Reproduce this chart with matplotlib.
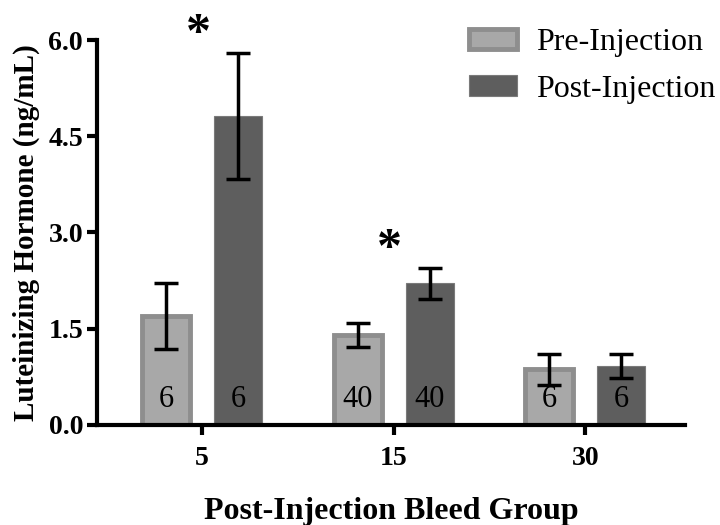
import matplotlib
matplotlib.use("Agg")
import matplotlib.pyplot as plt
import numpy as np

groups = ["5", "15", "30"]
pre_vals = [1.70, 1.40, 0.87]
pre_err = [0.52, 0.19, 0.24]
post_vals = [4.81, 2.21, 0.92]
post_err = [0.98, 0.24, 0.19]
pre_n = ["6", "40", "6"]
post_n = ["6", "40", "6"]
star_y = [6.08, 2.73, None]
yticks = [0.0, 1.5, 3.0, 4.5, 6.0]

plt.rcParams['font.family'] = ['Liberation Serif', 'DejaVu Serif']

fig = plt.figure(figsize=(7.2, 5.25), dpi=100)
ax = fig.add_axes([0.1347, 0.1905, 0.8167, 0.7333])

x = np.arange(len(groups))
w = 0.25
off = 0.188

pre_face = "#a8a8a8"
pre_edge = "#8e8e8e"
post_face = "#5e5e5e"
post_edge = "#7a7a7a"

ax.bar(x - off, pre_vals, w, color=pre_face, edgecolor=pre_edge, linewidth=3.5,
       label="Pre-Injection", zorder=2)
ax.bar(x + off, post_vals, w, color=post_face, edgecolor=post_edge, linewidth=0.8,
       label="Post-Injection", zorder=2)
ax.errorbar(x - off, pre_vals, yerr=pre_err, fmt='none', ecolor='black',
            elinewidth=2.5, capsize=8.5, capthick=2.5, zorder=3)
ax.errorbar(x + off, post_vals, yerr=post_err, fmt='none', ecolor='black',
            elinewidth=2.5, capsize=8.5, capthick=2.5, zorder=3)

for i in range(len(groups)):
    ax.text(x[i] - off, 0.40, pre_n[i], ha='center', va='center', fontsize=22, zorder=4)
    ax.text(x[i] + off, 0.40, post_n[i], ha='center', va='center', fontsize=22, zorder=4)
    if star_y[i] is not None:
        ax.text(x[i] - 0.02, star_y[i], "*", ha='center', va='center', fontsize=36,
                fontweight='bold', clip_on=False, zorder=4)

ax.set_xlim(-0.548, 2.52)
ax.set_ylim(0, 6.0)
ax.set_xticks(x)
ax.set_xticklabels(groups)
ax.set_yticks(yticks)
ax.set_yticklabels([f"{v:.1f}" for v in yticks])

for s in ['top', 'right']:
    ax.spines[s].set_visible(False)
for s in ['left', 'bottom']:
    ax.spines[s].set_linewidth(3)
ax.tick_params(axis='both', width=3, length=7, labelsize=20)
ax.tick_params(axis='x', pad=8)
ax.tick_params(axis='y', pad=3)
for lab in ax.get_xticklabels() + ax.get_yticklabels():
    lab.set_fontweight('bold')

ax.set_ylabel("Luteinizing Hormone (ng/mL)", fontsize=21, fontweight='bold', labelpad=6)
ax.set_xlabel("Post-Injection Bleed Group", fontsize=23, fontweight='bold', labelpad=19)

leg = ax.legend(loc='upper right', bbox_to_anchor=(1.10, 1.105), frameon=False,
                fontsize=23, handlelength=1.5, handleheight=0.6, labelspacing=0.55,
                handletextpad=0.6)

fig.savefig("out.png", dpi=100)
